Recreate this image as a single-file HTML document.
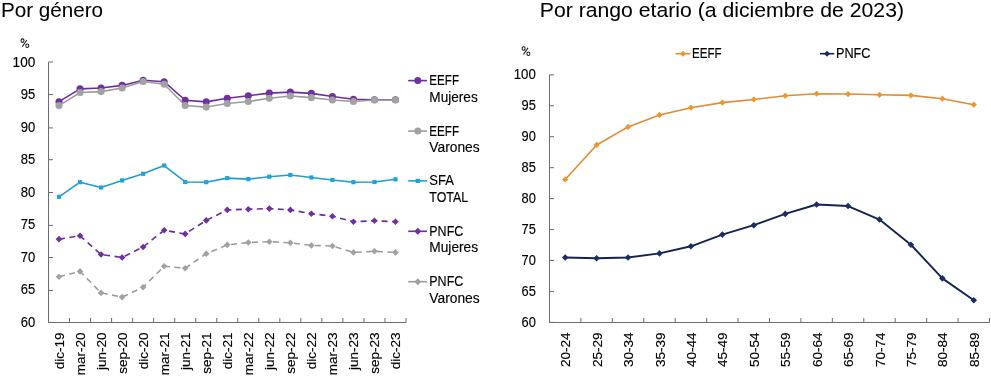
<!DOCTYPE html>
<html><head><meta charset="utf-8"><style>
html,body{margin:0;padding:0;background:#fff;}
body{width:991px;height:380px;overflow:hidden;}
svg{display:block;will-change:transform;}
text{font-family:"Liberation Sans", sans-serif;fill:#000;stroke:#000;stroke-width:0.15px;}
</style></head><body>
<svg width="991" height="380" viewBox="0 0 991 380">
<text x="0.9" y="16.8" font-size="21" textLength="102.2" lengthAdjust="spacingAndGlyphs" style="stroke-width:0.05px">Por género</text>
<text x="539.8" y="16.8" font-size="21" textLength="364.21" lengthAdjust="spacingAndGlyphs" style="stroke-width:0.05px">Por rango etario (a diciembre de 2023)</text>
<g stroke="#6c6c6c" stroke-width="1" fill="none">
<path d="M48.5,62 V322.5 H406"/>
<path d="M48.5,322.4 H53"/>
<path d="M48.5,290.5 H53"/>
<path d="M48.5,257.5 H53"/>
<path d="M48.5,225.4 H53"/>
<path d="M48.5,192.5 H53"/>
<path d="M48.5,159.7 H53"/>
<path d="M48.5,127.9 H53"/>
<path d="M48.5,94.6 H53"/>
<path d="M48.5,62 H53"/>
<path d="M69.53,322.5 V318"/>
<path d="M90.56,322.5 V318"/>
<path d="M111.59,322.5 V318"/>
<path d="M132.62,322.5 V318"/>
<path d="M153.65,322.5 V318"/>
<path d="M174.68,322.5 V318"/>
<path d="M195.71,322.5 V318"/>
<path d="M216.74,322.5 V318"/>
<path d="M237.76,322.5 V318"/>
<path d="M258.79,322.5 V318"/>
<path d="M279.82,322.5 V318"/>
<path d="M300.85,322.5 V318"/>
<path d="M321.88,322.5 V318"/>
<path d="M342.91,322.5 V318"/>
<path d="M363.94,322.5 V318"/>
<path d="M384.97,322.5 V318"/>
<path d="M406,322.5 V318"/>
</g>
<text x="20.8" y="327" font-size="14.5" textLength="14.5" lengthAdjust="spacingAndGlyphs">60</text>
<text x="20.8" y="294.46" font-size="14.5" textLength="14.5" lengthAdjust="spacingAndGlyphs">65</text>
<text x="20.8" y="261.92" font-size="14.5" textLength="14.5" lengthAdjust="spacingAndGlyphs">70</text>
<text x="20.8" y="229.38" font-size="14.5" textLength="14.5" lengthAdjust="spacingAndGlyphs">75</text>
<text x="20.8" y="196.84" font-size="14.5" textLength="14.5" lengthAdjust="spacingAndGlyphs">80</text>
<text x="20.8" y="164.3" font-size="14.5" textLength="14.5" lengthAdjust="spacingAndGlyphs">85</text>
<text x="20.8" y="131.76" font-size="14.5" textLength="14.5" lengthAdjust="spacingAndGlyphs">90</text>
<text x="20.8" y="99.22" font-size="14.5" textLength="14.5" lengthAdjust="spacingAndGlyphs">95</text>
<text x="12.6" y="66.68" font-size="14.5" textLength="22.71" lengthAdjust="spacingAndGlyphs">100</text>
<g fill="none" stroke="#1a1a1a" stroke-width="1.05"><ellipse cx="22.5" cy="40.6" rx="1.5" ry="1.75"/><ellipse cx="27.3" cy="45.8" rx="1.5" ry="1.75"/><path d="M26.9,40 L22.3,46.6"/></g>
<text transform="translate(64.01,332.5) rotate(-90)" font-size="13.5" text-anchor="end">dic-19</text>
<text transform="translate(85.04,332.5) rotate(-90)" font-size="13.5" text-anchor="end">mar-20</text>
<text transform="translate(106.07,332.5) rotate(-90)" font-size="13.5" text-anchor="end">jun-20</text>
<text transform="translate(127.1,332.5) rotate(-90)" font-size="13.5" text-anchor="end">sep-20</text>
<text transform="translate(148.13,332.5) rotate(-90)" font-size="13.5" text-anchor="end">dic-20</text>
<text transform="translate(169.16,332.5) rotate(-90)" font-size="13.5" text-anchor="end">mar-21</text>
<text transform="translate(190.19,332.5) rotate(-90)" font-size="13.5" text-anchor="end">jun-21</text>
<text transform="translate(211.22,332.5) rotate(-90)" font-size="13.5" text-anchor="end">sep-21</text>
<text transform="translate(232.25,332.5) rotate(-90)" font-size="13.5" text-anchor="end">dic-21</text>
<text transform="translate(253.28,332.5) rotate(-90)" font-size="13.5" text-anchor="end">mar-22</text>
<text transform="translate(274.31,332.5) rotate(-90)" font-size="13.5" text-anchor="end">jun-22</text>
<text transform="translate(295.34,332.5) rotate(-90)" font-size="13.5" text-anchor="end">sep-22</text>
<text transform="translate(316.37,332.5) rotate(-90)" font-size="13.5" text-anchor="end">dic-22</text>
<text transform="translate(337.4,332.5) rotate(-90)" font-size="13.5" text-anchor="end">mar-23</text>
<text transform="translate(358.43,332.5) rotate(-90)" font-size="13.5" text-anchor="end">jun-23</text>
<text transform="translate(379.46,332.5) rotate(-90)" font-size="13.5" text-anchor="end">sep-23</text>
<text transform="translate(400.49,332.5) rotate(-90)" font-size="13.5" text-anchor="end">dic-23</text>
<path d="M59.01,101.68 L80.04,88.92 L101.07,88.01 L122.1,85.41 L143.13,80.2 L164.16,81.7 L185.19,100.25 L206.22,101.87 L227.25,98.29 L248.28,95.69 L269.31,93.09 L290.34,92.11 L311.37,93.41 L332.4,96.47 L353.43,99.21 L374.46,99.73 L395.49,99.73" fill="none" stroke="#6a2ea0" stroke-width="1.6" stroke-linejoin="round"/>
<circle cx="59.01" cy="101.68" r="3.55" fill="#7030a0"/>
<circle cx="80.04" cy="88.92" r="3.55" fill="#7030a0"/>
<circle cx="101.07" cy="88.01" r="3.55" fill="#7030a0"/>
<circle cx="122.1" cy="85.41" r="3.55" fill="#7030a0"/>
<circle cx="143.13" cy="80.2" r="3.55" fill="#7030a0"/>
<circle cx="164.16" cy="81.7" r="3.55" fill="#7030a0"/>
<circle cx="185.19" cy="100.25" r="3.55" fill="#7030a0"/>
<circle cx="206.22" cy="101.87" r="3.55" fill="#7030a0"/>
<circle cx="227.25" cy="98.29" r="3.55" fill="#7030a0"/>
<circle cx="248.28" cy="95.69" r="3.55" fill="#7030a0"/>
<circle cx="269.31" cy="93.09" r="3.55" fill="#7030a0"/>
<circle cx="290.34" cy="92.11" r="3.55" fill="#7030a0"/>
<circle cx="311.37" cy="93.41" r="3.55" fill="#7030a0"/>
<circle cx="332.4" cy="96.47" r="3.55" fill="#7030a0"/>
<circle cx="353.43" cy="99.21" r="3.55" fill="#7030a0"/>
<circle cx="374.46" cy="99.73" r="3.55" fill="#7030a0"/>
<circle cx="395.49" cy="99.73" r="3.55" fill="#7030a0"/>
<path d="M59.01,105.58 L80.04,92.57 L101.07,91.59 L122.1,88.01 L143.13,81.5 L164.16,84.3 L185.19,105.45 L206.22,107.08 L227.25,103.5 L248.28,101.55 L269.31,98.29 L290.34,96.02 L311.37,97.64 L332.4,100.05 L353.43,101.55 L374.46,100.05 L395.49,100.05" fill="none" stroke="#9c9c9c" stroke-width="1.6" stroke-linejoin="round"/>
<circle cx="59.01" cy="105.58" r="3.55" fill="#a2a2a2"/>
<circle cx="80.04" cy="92.57" r="3.55" fill="#a2a2a2"/>
<circle cx="101.07" cy="91.59" r="3.55" fill="#a2a2a2"/>
<circle cx="122.1" cy="88.01" r="3.55" fill="#a2a2a2"/>
<circle cx="143.13" cy="81.5" r="3.55" fill="#a2a2a2"/>
<circle cx="164.16" cy="84.3" r="3.55" fill="#a2a2a2"/>
<circle cx="185.19" cy="105.45" r="3.55" fill="#a2a2a2"/>
<circle cx="206.22" cy="107.08" r="3.55" fill="#a2a2a2"/>
<circle cx="227.25" cy="103.5" r="3.55" fill="#a2a2a2"/>
<circle cx="248.28" cy="101.55" r="3.55" fill="#a2a2a2"/>
<circle cx="269.31" cy="98.29" r="3.55" fill="#a2a2a2"/>
<circle cx="290.34" cy="96.02" r="3.55" fill="#a2a2a2"/>
<circle cx="311.37" cy="97.64" r="3.55" fill="#a2a2a2"/>
<circle cx="332.4" cy="100.05" r="3.55" fill="#a2a2a2"/>
<circle cx="353.43" cy="101.55" r="3.55" fill="#a2a2a2"/>
<circle cx="374.46" cy="100.05" r="3.55" fill="#a2a2a2"/>
<circle cx="395.49" cy="100.05" r="3.55" fill="#a2a2a2"/>
<path d="M59.01,196.83 L80.04,182.18 L101.07,187.52 L122.1,180.43 L143.13,173.79 L164.16,165.52 L185.19,181.99 L206.22,182.18 L227.25,178.15 L248.28,179.12 L269.31,176.72 L290.34,175.02 L311.37,177.5 L332.4,179.97 L353.43,182.18 L374.46,181.99 L395.49,179.32" fill="none" stroke="#1f9cd2" stroke-width="1.6" stroke-linejoin="round"/>
<rect x="56.91" y="194.73" width="4.2" height="4.2" fill="#21a3d9"/>
<rect x="77.94" y="180.08" width="4.2" height="4.2" fill="#21a3d9"/>
<rect x="98.97" y="185.42" width="4.2" height="4.2" fill="#21a3d9"/>
<rect x="120" y="178.33" width="4.2" height="4.2" fill="#21a3d9"/>
<rect x="141.03" y="171.69" width="4.2" height="4.2" fill="#21a3d9"/>
<rect x="162.06" y="163.42" width="4.2" height="4.2" fill="#21a3d9"/>
<rect x="183.09" y="179.89" width="4.2" height="4.2" fill="#21a3d9"/>
<rect x="204.12" y="180.08" width="4.2" height="4.2" fill="#21a3d9"/>
<rect x="225.15" y="176.05" width="4.2" height="4.2" fill="#21a3d9"/>
<rect x="246.18" y="177.02" width="4.2" height="4.2" fill="#21a3d9"/>
<rect x="267.21" y="174.62" width="4.2" height="4.2" fill="#21a3d9"/>
<rect x="288.24" y="172.92" width="4.2" height="4.2" fill="#21a3d9"/>
<rect x="309.27" y="175.4" width="4.2" height="4.2" fill="#21a3d9"/>
<rect x="330.3" y="177.87" width="4.2" height="4.2" fill="#21a3d9"/>
<rect x="351.33" y="180.08" width="4.2" height="4.2" fill="#21a3d9"/>
<rect x="372.36" y="179.89" width="4.2" height="4.2" fill="#21a3d9"/>
<rect x="393.39" y="177.22" width="4.2" height="4.2" fill="#21a3d9"/>
<path d="M59.01,239.13 L80.04,235.81 L101.07,254.49 L122.1,257.48 L143.13,246.94 L164.16,230.28 L185.19,233.92 L206.22,220.38 L227.25,209.91 L248.28,209.19 L269.31,208.61 L290.34,209.91 L311.37,213.68 L332.4,216.22 L353.43,221.69 L374.46,220.78 L395.49,221.69" fill="none" stroke="#6a2ea0" stroke-width="1.6" stroke-linejoin="round" stroke-dasharray="6 4.5"/>
<path d="M59.01,235.83 L62.31,239.13 L59.01,242.43 L55.71,239.13 Z" fill="#7030a0"/>
<path d="M80.04,232.51 L83.34,235.81 L80.04,239.11 L76.74,235.81 Z" fill="#7030a0"/>
<path d="M101.07,251.19 L104.37,254.49 L101.07,257.79 L97.77,254.49 Z" fill="#7030a0"/>
<path d="M122.1,254.18 L125.4,257.48 L122.1,260.78 L118.8,257.48 Z" fill="#7030a0"/>
<path d="M143.13,243.64 L146.43,246.94 L143.13,250.24 L139.83,246.94 Z" fill="#7030a0"/>
<path d="M164.16,226.98 L167.46,230.28 L164.16,233.58 L160.86,230.28 Z" fill="#7030a0"/>
<path d="M185.19,230.62 L188.49,233.92 L185.19,237.22 L181.89,233.92 Z" fill="#7030a0"/>
<path d="M206.22,217.08 L209.52,220.38 L206.22,223.68 L202.92,220.38 Z" fill="#7030a0"/>
<path d="M227.25,206.61 L230.55,209.91 L227.25,213.21 L223.95,209.91 Z" fill="#7030a0"/>
<path d="M248.28,205.89 L251.58,209.19 L248.28,212.49 L244.98,209.19 Z" fill="#7030a0"/>
<path d="M269.31,205.31 L272.61,208.61 L269.31,211.91 L266.01,208.61 Z" fill="#7030a0"/>
<path d="M290.34,206.61 L293.64,209.91 L290.34,213.21 L287.04,209.91 Z" fill="#7030a0"/>
<path d="M311.37,210.38 L314.67,213.68 L311.37,216.98 L308.07,213.68 Z" fill="#7030a0"/>
<path d="M332.4,212.92 L335.7,216.22 L332.4,219.52 L329.1,216.22 Z" fill="#7030a0"/>
<path d="M353.43,218.39 L356.73,221.69 L353.43,224.99 L350.13,221.69 Z" fill="#7030a0"/>
<path d="M374.46,217.48 L377.76,220.78 L374.46,224.08 L371.16,220.78 Z" fill="#7030a0"/>
<path d="M395.49,218.39 L398.79,221.69 L395.49,224.99 L392.19,221.69 Z" fill="#7030a0"/>
<path d="M59.01,276.74 L80.04,271.41 L101.07,292.88 L122.1,297.11 L143.13,287.22 L164.16,266.2 L185.19,268.22 L206.22,253.71 L227.25,244.85 L248.28,242.51 L269.31,241.73 L290.34,242.77 L311.37,245.38 L332.4,246.03 L353.43,252.4 L374.46,251.3 L395.49,252.4" fill="none" stroke="#9c9c9c" stroke-width="1.6" stroke-linejoin="round" stroke-dasharray="6 4.5"/>
<path d="M59.01,273.44 L62.31,276.74 L59.01,280.04 L55.71,276.74 Z" fill="#a2a2a2"/>
<path d="M80.04,268.11 L83.34,271.41 L80.04,274.71 L76.74,271.41 Z" fill="#a2a2a2"/>
<path d="M101.07,289.58 L104.37,292.88 L101.07,296.18 L97.77,292.88 Z" fill="#a2a2a2"/>
<path d="M122.1,293.81 L125.4,297.11 L122.1,300.41 L118.8,297.11 Z" fill="#a2a2a2"/>
<path d="M143.13,283.92 L146.43,287.22 L143.13,290.52 L139.83,287.22 Z" fill="#a2a2a2"/>
<path d="M164.16,262.9 L167.46,266.2 L164.16,269.5 L160.86,266.2 Z" fill="#a2a2a2"/>
<path d="M185.19,264.92 L188.49,268.22 L185.19,271.52 L181.89,268.22 Z" fill="#a2a2a2"/>
<path d="M206.22,250.41 L209.52,253.71 L206.22,257.01 L202.92,253.71 Z" fill="#a2a2a2"/>
<path d="M227.25,241.55 L230.55,244.85 L227.25,248.15 L223.95,244.85 Z" fill="#a2a2a2"/>
<path d="M248.28,239.21 L251.58,242.51 L248.28,245.81 L244.98,242.51 Z" fill="#a2a2a2"/>
<path d="M269.31,238.43 L272.61,241.73 L269.31,245.03 L266.01,241.73 Z" fill="#a2a2a2"/>
<path d="M290.34,239.47 L293.64,242.77 L290.34,246.07 L287.04,242.77 Z" fill="#a2a2a2"/>
<path d="M311.37,242.08 L314.67,245.38 L311.37,248.68 L308.07,245.38 Z" fill="#a2a2a2"/>
<path d="M332.4,242.73 L335.7,246.03 L332.4,249.33 L329.1,246.03 Z" fill="#a2a2a2"/>
<path d="M353.43,249.1 L356.73,252.4 L353.43,255.7 L350.13,252.4 Z" fill="#a2a2a2"/>
<path d="M374.46,248 L377.76,251.3 L374.46,254.6 L371.16,251.3 Z" fill="#a2a2a2"/>
<path d="M395.49,249.1 L398.79,252.4 L395.49,255.7 L392.19,252.4 Z" fill="#a2a2a2"/>
<path d="M408.2,80.6 H427" stroke="#6a2ea0" stroke-width="1.6"/>
<circle cx="417.8" cy="80.6" r="3.5" fill="#7030a0"/>
<text x="429.3" y="85.1" font-size="14" textLength="29.8" lengthAdjust="spacingAndGlyphs">EEFF</text>
<text x="429.3" y="101.6" font-size="14" textLength="48.4" lengthAdjust="spacingAndGlyphs">Mujeres</text>
<path d="M408.2,131.1 H427" stroke="#9c9c9c" stroke-width="1.6"/>
<circle cx="417.8" cy="131.1" r="3.5" fill="#a2a2a2"/>
<text x="429.3" y="135.6" font-size="14" textLength="29.8" lengthAdjust="spacingAndGlyphs">EEFF</text>
<text x="429.3" y="152.1" font-size="14" textLength="50.41" lengthAdjust="spacingAndGlyphs">Varones</text>
<path d="M408.2,180.9 H427" stroke="#1f9cd2" stroke-width="1.6"/>
<rect x="415.7" y="178.8" width="4.2" height="4.2" fill="#21a3d9"/>
<text x="429.3" y="185.4" font-size="14" textLength="24.6" lengthAdjust="spacingAndGlyphs">SFA</text>
<text x="429.3" y="201.9" font-size="14" textLength="38.8" lengthAdjust="spacingAndGlyphs">TOTAL</text>
<path d="M408.2,231.3 H427" stroke="#6a2ea0" stroke-width="1.6"/>
<path d="M417.8,227.8 L421.3,231.3 L417.8,234.8 L414.3,231.3 Z" fill="#7030a0"/>
<text x="429.3" y="235.8" font-size="14" textLength="34" lengthAdjust="spacingAndGlyphs">PNFC</text>
<text x="429.3" y="252.3" font-size="14" textLength="48.8" lengthAdjust="spacingAndGlyphs">Mujeres</text>
<path d="M408.2,281.7 H427" stroke="#9c9c9c" stroke-width="1.6"/>
<path d="M417.8,278.2 L421.3,281.7 L417.8,285.2 L414.3,281.7 Z" fill="#a2a2a2"/>
<text x="429.3" y="286.2" font-size="14" textLength="34" lengthAdjust="spacingAndGlyphs">PNFC</text>
<text x="429.3" y="302.7" font-size="14" textLength="50.41" lengthAdjust="spacingAndGlyphs">Varones</text>
<g stroke="#6c6c6c" stroke-width="1" fill="none">
<path d="M549.5,74.8 V322.5 H989.5"/>
<path d="M549.5,322.4 H554"/>
<path d="M549.5,291.45 H554"/>
<path d="M549.5,260.5 H554"/>
<path d="M549.5,229.55 H554"/>
<path d="M549.5,198.6 H554"/>
<path d="M549.5,167.65 H554"/>
<path d="M549.5,136.7 H554"/>
<path d="M549.5,105.75 H554"/>
<path d="M549.5,74.8 H554"/>
<path d="M580.93,322.5 V318"/>
<path d="M612.36,322.5 V318"/>
<path d="M643.79,322.5 V318"/>
<path d="M675.21,322.5 V318"/>
<path d="M706.64,322.5 V318"/>
<path d="M738.07,322.5 V318"/>
<path d="M769.5,322.5 V318"/>
<path d="M800.93,322.5 V318"/>
<path d="M832.36,322.5 V318"/>
<path d="M863.79,322.5 V318"/>
<path d="M895.21,322.5 V318"/>
<path d="M926.64,322.5 V318"/>
<path d="M958.07,322.5 V318"/>
<path d="M989.5,322.5 V318"/>
</g>
<text x="521.5" y="327" font-size="14.5" textLength="14.3" lengthAdjust="spacingAndGlyphs">60</text>
<text x="521.5" y="296.05" font-size="14.5" textLength="14.3" lengthAdjust="spacingAndGlyphs">65</text>
<text x="521.5" y="265.1" font-size="14.5" textLength="14.3" lengthAdjust="spacingAndGlyphs">70</text>
<text x="521.5" y="234.15" font-size="14.5" textLength="14.3" lengthAdjust="spacingAndGlyphs">75</text>
<text x="521.5" y="203.2" font-size="14.5" textLength="14.3" lengthAdjust="spacingAndGlyphs">80</text>
<text x="521.5" y="172.25" font-size="14.5" textLength="14.3" lengthAdjust="spacingAndGlyphs">85</text>
<text x="521.5" y="141.3" font-size="14.5" textLength="14.3" lengthAdjust="spacingAndGlyphs">90</text>
<text x="521.5" y="110.35" font-size="14.5" textLength="14.3" lengthAdjust="spacingAndGlyphs">95</text>
<text x="513.7" y="79.4" font-size="14.5" textLength="22.11" lengthAdjust="spacingAndGlyphs">100</text>
<g fill="none" stroke="#1a1a1a" stroke-width="1.05"><ellipse cx="523.6" cy="48.5" rx="1.5" ry="1.75"/><ellipse cx="528.4" cy="53.7" rx="1.5" ry="1.75"/><path d="M528,47.9 L523.4,54.5"/></g>
<text transform="translate(570.21,332.5) rotate(-90)" font-size="13.5" text-anchor="end">20-24</text>
<text transform="translate(601.64,332.5) rotate(-90)" font-size="13.5" text-anchor="end">25-29</text>
<text transform="translate(633.07,332.5) rotate(-90)" font-size="13.5" text-anchor="end">30-34</text>
<text transform="translate(664.5,332.5) rotate(-90)" font-size="13.5" text-anchor="end">35-39</text>
<text transform="translate(695.93,332.5) rotate(-90)" font-size="13.5" text-anchor="end">40-44</text>
<text transform="translate(727.36,332.5) rotate(-90)" font-size="13.5" text-anchor="end">45-49</text>
<text transform="translate(758.79,332.5) rotate(-90)" font-size="13.5" text-anchor="end">50-54</text>
<text transform="translate(790.21,332.5) rotate(-90)" font-size="13.5" text-anchor="end">55-59</text>
<text transform="translate(821.64,332.5) rotate(-90)" font-size="13.5" text-anchor="end">60-64</text>
<text transform="translate(853.07,332.5) rotate(-90)" font-size="13.5" text-anchor="end">65-69</text>
<text transform="translate(884.5,332.5) rotate(-90)" font-size="13.5" text-anchor="end">70-74</text>
<text transform="translate(915.93,332.5) rotate(-90)" font-size="13.5" text-anchor="end">75-79</text>
<text transform="translate(947.36,332.5) rotate(-90)" font-size="13.5" text-anchor="end">80-84</text>
<text transform="translate(978.79,332.5) rotate(-90)" font-size="13.5" text-anchor="end">85-89</text>
<path d="M565.21,179.5 L596.64,144.96 L628.07,126.88 L659.5,114.94 L690.93,107.69 L722.36,102.62 L753.79,99.46 L785.21,95.75 L816.64,93.77 L848.07,94.07 L879.5,94.82 L910.93,95.37 L942.36,98.72 L973.79,104.72" fill="none" stroke="#e08c34" stroke-width="1.6" stroke-linejoin="round"/>
<path d="M565.21,176.4 L568.31,179.5 L565.21,182.6 L562.11,179.5 Z" fill="#f0952a"/>
<path d="M596.64,141.86 L599.74,144.96 L596.64,148.06 L593.54,144.96 Z" fill="#f0952a"/>
<path d="M628.07,123.78 L631.17,126.88 L628.07,129.98 L624.97,126.88 Z" fill="#f0952a"/>
<path d="M659.5,111.84 L662.6,114.94 L659.5,118.03 L656.4,114.94 Z" fill="#f0952a"/>
<path d="M690.93,104.59 L694.03,107.69 L690.93,110.79 L687.83,107.69 Z" fill="#f0952a"/>
<path d="M722.36,99.52 L725.46,102.62 L722.36,105.72 L719.26,102.62 Z" fill="#f0952a"/>
<path d="M753.79,96.36 L756.89,99.46 L753.79,102.56 L750.69,99.46 Z" fill="#f0952a"/>
<path d="M785.21,92.65 L788.31,95.75 L785.21,98.85 L782.11,95.75 Z" fill="#f0952a"/>
<path d="M816.64,90.67 L819.74,93.77 L816.64,96.87 L813.54,93.77 Z" fill="#f0952a"/>
<path d="M848.07,90.97 L851.17,94.07 L848.07,97.17 L844.97,94.07 Z" fill="#f0952a"/>
<path d="M879.5,91.72 L882.6,94.82 L879.5,97.92 L876.4,94.82 Z" fill="#f0952a"/>
<path d="M910.93,92.27 L914.03,95.37 L910.93,98.47 L907.83,95.37 Z" fill="#f0952a"/>
<path d="M942.36,95.62 L945.46,98.72 L942.36,101.82 L939.26,98.72 Z" fill="#f0952a"/>
<path d="M973.79,101.62 L976.89,104.72 L973.79,107.82 L970.69,104.72 Z" fill="#f0952a"/>
<path d="M565.21,257.49 L596.64,258.3 L628.07,257.49 L659.5,253.41 L690.93,246.29 L722.36,234.59 L753.79,225.18 L785.21,213.91 L816.64,204.5 L848.07,206.05 L879.5,219.55 L910.93,244.74 L942.36,278.35 L973.79,300.26" fill="none" stroke="#142452" stroke-width="1.9" stroke-linejoin="round"/>
<path d="M565.21,254.19 L568.51,257.49 L565.21,260.79 L561.91,257.49 Z" fill="#1b2e63"/>
<path d="M596.64,255 L599.94,258.3 L596.64,261.6 L593.34,258.3 Z" fill="#1b2e63"/>
<path d="M628.07,254.19 L631.37,257.49 L628.07,260.79 L624.77,257.49 Z" fill="#1b2e63"/>
<path d="M659.5,250.11 L662.8,253.41 L659.5,256.71 L656.2,253.41 Z" fill="#1b2e63"/>
<path d="M690.93,242.99 L694.23,246.29 L690.93,249.59 L687.63,246.29 Z" fill="#1b2e63"/>
<path d="M722.36,231.29 L725.66,234.59 L722.36,237.89 L719.06,234.59 Z" fill="#1b2e63"/>
<path d="M753.79,221.88 L757.09,225.18 L753.79,228.48 L750.49,225.18 Z" fill="#1b2e63"/>
<path d="M785.21,210.61 L788.51,213.91 L785.21,217.21 L781.91,213.91 Z" fill="#1b2e63"/>
<path d="M816.64,201.2 L819.94,204.5 L816.64,207.8 L813.34,204.5 Z" fill="#1b2e63"/>
<path d="M848.07,202.75 L851.37,206.05 L848.07,209.35 L844.77,206.05 Z" fill="#1b2e63"/>
<path d="M879.5,216.25 L882.8,219.55 L879.5,222.85 L876.2,219.55 Z" fill="#1b2e63"/>
<path d="M910.93,241.44 L914.23,244.74 L910.93,248.04 L907.63,244.74 Z" fill="#1b2e63"/>
<path d="M942.36,275.05 L945.66,278.35 L942.36,281.65 L939.06,278.35 Z" fill="#1b2e63"/>
<path d="M973.79,296.96 L977.09,300.26 L973.79,303.56 L970.49,300.26 Z" fill="#1b2e63"/>
<path d="M675.6,53.7 H690.3" stroke="#e08c34" stroke-width="1.6"/>
<path d="M683,50.7 L686,53.7 L683,56.7 L680,53.7 Z" fill="#f0952a"/>
<text x="692" y="58.2" font-size="14" textLength="29.7" lengthAdjust="spacingAndGlyphs">EEFF</text>
<path d="M820,53.7 H834.3" stroke="#142452" stroke-width="1.6"/>
<path d="M827,50.7 L830,53.7 L827,56.7 L824,53.7 Z" fill="#1b2e63"/>
<text x="836" y="58.2" font-size="14" textLength="34.5" lengthAdjust="spacingAndGlyphs">PNFC</text>
</svg>
</body></html>
